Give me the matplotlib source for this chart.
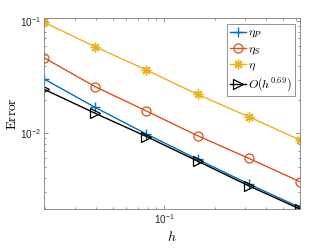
import matplotlib
matplotlib.use("Agg")
import matplotlib.pyplot as plt
from matplotlib.ticker import LogLocator, NullFormatter

# ---------------- data ----------------
h = [0.0197, 0.0394, 0.0788, 0.1575, 0.315, 0.63]
eta_p = [0.0305, 0.0170, 0.00986, 0.00587, 0.00354, 0.00219]
eta_s = [0.0471, 0.0260, 0.0158, 0.00953, 0.00599, 0.00371]
eta = [0.0973, 0.0590, 0.0366, 0.0222, 0.01405, 0.00871]
ref = [0.0247, 0.01507, 0.00937, 0.00566, 0.00341, 0.00212]

labels = [r"$\eta_P$", r"$\eta_S$", r"$\eta$", r"$O(h^{0.69})$"]

# ---------------- style ----------------
plt.rcParams["font.family"] = "Liberation Sans"
plt.rcParams["mathtext.fontset"] = "cm"

AX_GRAY = "#7f7f7f"

fig = plt.figure(figsize=(3.32, 2.49), dpi=100)
ax = fig.add_axes([0.1325, 0.1606, 0.771, 0.766])

ax.loglog(h, eta_p, color="#0072BD", marker="+", ms=7, mew=1.0, lw=1.0,
          label=labels[0])
ax.loglog(h, eta_s, color="#D95319", marker="o", ms=6.5, mfc="none", mew=0.9,
          lw=1.0, label=labels[1])
ax.loglog(h, eta, color="#EDB120", marker=(8, 2, 0), ms=7, mew=1.0, lw=1.0,
          label=labels[2])
ax.loglog(h, ref, color="black", marker=">", ms=6.5, mfc="none", mew=0.9,
          lw=1.0, label=labels[3])

ax.set_xlim(h[0], h[-1])
ax.set_ylim(0.00212, 0.1057)

ax.xaxis.set_minor_locator(LogLocator(subs=range(2, 10), numticks=20))
ax.yaxis.set_minor_locator(LogLocator(subs=range(2, 10), numticks=20))
ax.xaxis.set_minor_formatter(NullFormatter())
ax.yaxis.set_minor_formatter(NullFormatter())

ax.tick_params(which="both", direction="in", top=True, right=True,
               color=AX_GRAY, width=0.6, labelsize=7.2, labelcolor="#262626")
ax.tick_params(which="major", length=3, pad=2)
ax.tick_params(which="minor", length=1.6)
for sp in ax.spines.values():
    sp.set_color(AX_GRAY)
    sp.set_linewidth(0.6)

ax.set_xlabel(r"$h$", fontsize=10, labelpad=3)
ax.set_ylabel(r"$\mathrm{Error}$", fontsize=9.5, labelpad=1)

leg = ax.legend(loc="upper right", fontsize=8.7, handlelength=1.3,
                handletextpad=0.15, borderpad=0.25, labelspacing=0.22,
                borderaxespad=0.45, fancybox=False, framealpha=1,
                edgecolor=AX_GRAY)
leg.get_frame().set_linewidth(0.6)

fig.savefig("out.png", dpi=100)
